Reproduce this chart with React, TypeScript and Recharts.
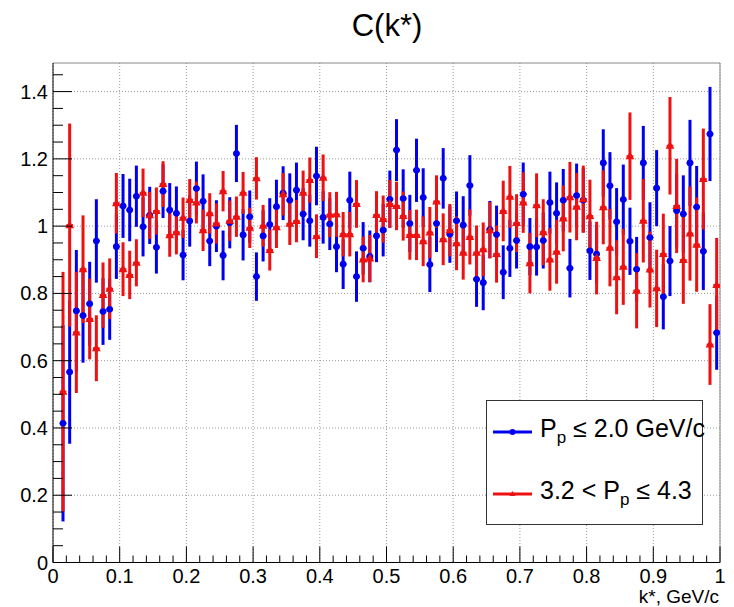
import { CartesianGrid, ComposedChart, ErrorBar, ReferenceLine, Scatter, XAxis, YAxis } from "recharts";

const FONT = '"Liberation Sans", Arial, Helvetica, sans-serif';
const BLUE = "#0000ee";
const RED = "#ee1111";

// bin centres of k*, GeV/c
const kBins = [
  0.015, 0.025, 0.035, 0.045, 0.055, 0.065, 0.075, 0.085, 0.095,
  0.105, 0.115, 0.125, 0.135, 0.145, 0.155, 0.165, 0.175, 0.185, 0.195,
  0.205, 0.215, 0.225, 0.235, 0.245, 0.255, 0.265, 0.275, 0.285, 0.295,
  0.305, 0.315, 0.325, 0.335, 0.345, 0.355, 0.365, 0.375, 0.385, 0.395,
  0.405, 0.415, 0.425, 0.435, 0.445, 0.455, 0.465, 0.475, 0.485, 0.495,
  0.505, 0.515, 0.525, 0.535, 0.545, 0.555, 0.565, 0.575, 0.585, 0.595,
  0.605, 0.615, 0.625, 0.635, 0.645, 0.655, 0.665, 0.675, 0.685, 0.695,
  0.705, 0.715, 0.725, 0.735, 0.745, 0.755, 0.765, 0.775, 0.785, 0.795,
  0.805, 0.815, 0.825, 0.835, 0.845, 0.855, 0.865, 0.875, 0.885, 0.895,
  0.905, 0.915, 0.925, 0.935, 0.945, 0.955, 0.965, 0.975, 0.985, 0.995,
];
const binHalf = 0.005;

// P_p <= 2.0 GeV/c
const blueC = [
  0.414, 0.566, 0.748, 0.734, 0.769, 0.956, 0.746, 0.753, 0.939,
  1.06, 1.048, 1.089, 0.998, 1.032, 0.937, 1.104, 1.048, 1.038, 0.914,
  1.015, 1.112, 1.074, 0.956, 1.0, 0.913, 1.01, 1.216, 0.974, 1.028,
  0.85, 0.971, 1.005, 1.058, 1.098, 1.077, 1.107, 1.036, 1.016, 1.149,
  1.026, 1.006, 0.939, 0.887, 1.077, 0.85, 0.934, 0.91, 0.971, 0.988,
  1.08, 1.226, 1.082, 1.008, 1.166, 1.085, 0.886, 1.008, 1.142, 0.976,
  1.016, 1.003, 1.121, 0.842, 0.832, 0.99, 0.975, 0.863, 0.934, 0.957,
  1.095, 0.939, 0.938, 0.957, 1.07, 1.038, 1.077, 0.875, 1.091, 1.077,
  0.927, 0.917, 1.188, 1.12, 1.013, 1.079, 0.955, 0.872, 1.188, 0.966,
  1.113, 0.79, 0.896, 1.046, 1.036, 1.188, 1.057, 0.925, 1.274, 0.683,
];
const blueErr = [
  0.292, 0.213, 0.181, 0.14, 0.125, 0.124, 0.099, 0.091, 0.096,
  0.095, 0.093, 0.091, 0.088, 0.085, 0.078, 0.08, 0.08, 0.08, 0.075,
  0.076, 0.08, 0.08, 0.075, 0.077, 0.074, 0.076, 0.085, 0.076, 0.078,
  0.072, 0.076, 0.078, 0.08, 0.08, 0.08, 0.082, 0.078, 0.077, 0.087,
  0.078, 0.077, 0.076, 0.074, 0.085, 0.075, 0.078, 0.077, 0.078, 0.078,
  0.085, 0.092, 0.087, 0.085, 0.094, 0.087, 0.082, 0.085, 0.09, 0.085,
  0.087, 0.086, 0.09, 0.082, 0.082, 0.085, 0.086, 0.08, 0.085, 0.083,
  0.094, 0.085, 0.085, 0.083, 0.092, 0.092, 0.093, 0.087, 0.095, 0.095,
  0.087, 0.087, 0.1, 0.1, 0.1, 0.104, 0.1, 0.096, 0.11, 0.105,
  0.113, 0.097, 0.104, 0.11, 0.115, 0.128, 0.122, 0.115, 0.14, 0.11,
];

// 3.2 < P_p <= 4.3
const redC = [
  0.508, 1.003, 0.684, 0.872, 0.724, 0.637, 0.795, 0.814, 1.068,
  0.872, 0.855, 0.891, 1.099, 1.032, 1.045, 1.125, 0.973, 0.982, 1.025,
  1.078, 1.07, 0.988, 1.038, 1.008, 1.104, 1.016, 1.028, 1.099, 0.995,
  1.142, 1.001, 0.929, 0.997, 1.095, 1.007, 1.015, 1.099, 1.137, 0.97,
  1.144, 1.034, 1.035, 0.976, 0.976, 1.066, 0.901, 0.904, 1.033, 1.021,
  1.066, 1.06, 1.03, 0.974, 0.974, 0.955, 0.981, 1.073, 0.961, 0.988,
  0.949, 0.921, 0.968, 0.921, 0.931, 0.988, 0.917, 1.045, 1.087, 1.009,
  1.07, 0.89, 1.062, 0.982, 0.901, 0.924, 1.023, 1.086, 1.058, 1.08,
  1.03, 0.905, 1.056, 0.936, 0.848, 0.879, 1.208, 0.808, 1.016, 0.871,
  0.815, 0.917, 1.239, 1.06, 0.899, 0.978, 0.945, 1.14, 0.648, 0.825,
];
const redErr = [
  0.356, 0.302, 0.18, 0.16, 0.12, 0.098, 0.097, 0.09, 0.09,
  0.08, 0.072, 0.07, 0.072, 0.07, 0.07, 0.068, 0.064, 0.066, 0.06,
  0.062, 0.062, 0.062, 0.06, 0.06, 0.06, 0.06, 0.06, 0.062, 0.06,
  0.063, 0.062, 0.061, 0.062, 0.063, 0.063, 0.063, 0.066, 0.067, 0.065,
  0.069, 0.067, 0.067, 0.066, 0.066, 0.071, 0.068, 0.07, 0.071, 0.07,
  0.071, 0.072, 0.073, 0.074, 0.075, 0.074, 0.076, 0.078, 0.077, 0.078,
  0.08, 0.08, 0.082, 0.081, 0.08, 0.084, 0.085, 0.09, 0.092, 0.086,
  0.09, 0.09, 0.095, 0.098, 0.093, 0.095, 0.098, 0.105, 0.1, 0.1,
  0.108, 0.108, 0.11, 0.115, 0.11, 0.113, 0.13, 0.112, 0.124, 0.113,
  0.115, 0.12, 0.145, 0.14, 0.13, 0.14, 0.14, 0.15, 0.12, 0.14,
];

const xMajor = [0, 0.1, 0.2, 0.3, 0.4, 0.5, 0.6, 0.7, 0.8, 0.9, 1];
const yMajor = [0, 0.2, 0.4, 0.6, 0.8, 1, 1.2, 1.4];
const xTicks = Array.from({ length: 51 }, (_, i) => i / 50);
const yTicks = Array.from({ length: 30 }, (_, i) => i / 20);
const Y_MAX = 1.485;

const blueData = kBins.map((k, i) => ({ k, c: blueC[i], e: blueErr[i], xe: binHalf }));
const redData = kBins.map((k, i) => ({ k, c: redC[i], e: redErr[i], xe: binHalf }));

const fmt = (v: number) => String(Number(v.toFixed(1)));
const isMajor = (v: number, step: number) => Math.abs(v / step - Math.round(v / step)) < 1e-6;

function XTick(props: any) {
  const { x, y, payload } = props;
  const major = isMajor(payload.value, 0.1);
  return (
    <g>
      <line x1={x} x2={x} y1={y} y2={y - (major ? 16 : 7)} stroke="#000" />
      {major && (
        <text x={x} y={y + 20} textAnchor="middle" fontSize={20} fontFamily={FONT} fill="#000">
          {fmt(payload.value)}
        </text>
      )}
    </g>
  );
}

function YTick(props: any) {
  const { x, y, payload } = props;
  const major = isMajor(payload.value, 0.2);
  return (
    <g>
      <line x1={x} x2={x + (major ? 19 : 10)} y1={y} y2={y} stroke="#000" />
      {major && (
        <text x={x - 5} y={y + 7} textAnchor="end" fontSize={20} fontFamily={FONT} fill="#000">
          {fmt(payload.value)}
        </text>
      )}
    </g>
  );
}

const Dot = (p: any) => <circle cx={p.cx} cy={p.cy} r={3.3} fill={BLUE} />;
const Tri = (p: any) => (
  <polygon points={`${p.cx},${p.cy - 4.6} ${p.cx - 4.4},${p.cy + 3} ${p.cx + 4.4},${p.cy + 3}`} fill={RED} />
);

export default function App() {
  return (
    <div style={{ position: "absolute", left: 0, top: 0, width: 734, height: 607, background: "#fff" }}>
      <ComposedChart width={734} height={607} margin={{ top: 63, right: 14, bottom: 0, left: 0 }}>
        <CartesianGrid
          verticalValues={xMajor}
          horizontalValues={yMajor}
          stroke="#999"
          strokeDasharray="1 2"
        />
        <XAxis
          type="number"
          dataKey="k"
          domain={[0, 1]}
          ticks={xTicks}
          interval={0}
          height={44.5}
          tickSize={0}
          tickMargin={0}
          tickLine={false}
          tick={<XTick />}
          axisLine={{ stroke: "#000" }}
          allowDataOverflow
        />
        <YAxis
          type="number"
          domain={[0, Y_MAX]}
          ticks={yTicks}
          interval={0}
          width={53}
          tickSize={0}
          tickMargin={0}
          tickLine={false}
          tick={<YTick />}
          axisLine={{ stroke: "#000" }}
          allowDataOverflow
        />
        <ReferenceLine y={Y_MAX} stroke="#888" />
        <ReferenceLine x={1} stroke="#888" />
        <Scatter data={blueData} dataKey="c" shape={Dot} isAnimationActive={false}>
          <ErrorBar dataKey="e" direction="y" width={0} strokeWidth={3} stroke={BLUE} isAnimationActive={false} />
          <ErrorBar dataKey="xe" direction="x" width={0} strokeWidth={2} stroke={BLUE} isAnimationActive={false} />
        </Scatter>
        <Scatter data={redData} dataKey="c" shape={Tri} isAnimationActive={false}>
          <ErrorBar dataKey="e" direction="y" width={0} strokeWidth={3} stroke={RED} isAnimationActive={false} />
          <ErrorBar dataKey="xe" direction="x" width={0} strokeWidth={2} stroke={RED} isAnimationActive={false} />
        </Scatter>
      </ComposedChart>
      <svg width={734} height={607} style={{ position: "absolute", left: 0, top: 0, pointerEvents: "none" }}>
        <g fontFamily={FONT} fill="#000">
          <text x={387} y={36} textAnchor="middle" fontSize={31}>C(k*)</text>
          <text x={719} y={603} textAnchor="end" fontSize={19}>k*, GeV/c</text>
        </g>
        <rect x={486.5} y={400.5} width={216} height={124} fill="#fff" stroke="#333" />
        <line x1={493} x2={532} y1={432} y2={432} stroke={BLUE} strokeWidth={3} />
        <circle cx={512.5} cy={432} r={3} fill={BLUE} />
        <line x1={493} x2={532} y1={494} y2={494} stroke={RED} strokeWidth={3} />
        <polygon points="512.5,491 509.5,496 515.5,496" fill={RED} />
        <g fontFamily={FONT} fill="#000" fontSize={25}>
          <text x={540} y={437}>
            P<tspan dy={6} fontSize={17}>p</tspan>
            <tspan dy={-6}> ≤ 2.0 GeV/c</tspan>
          </text>
          <text x={540} y={499}>
            3.2 &lt; P<tspan dy={6} fontSize={17}>p</tspan>
            <tspan dy={-6}> ≤ 4.3</tspan>
          </text>
        </g>
      </svg>
    </div>
  );
}
